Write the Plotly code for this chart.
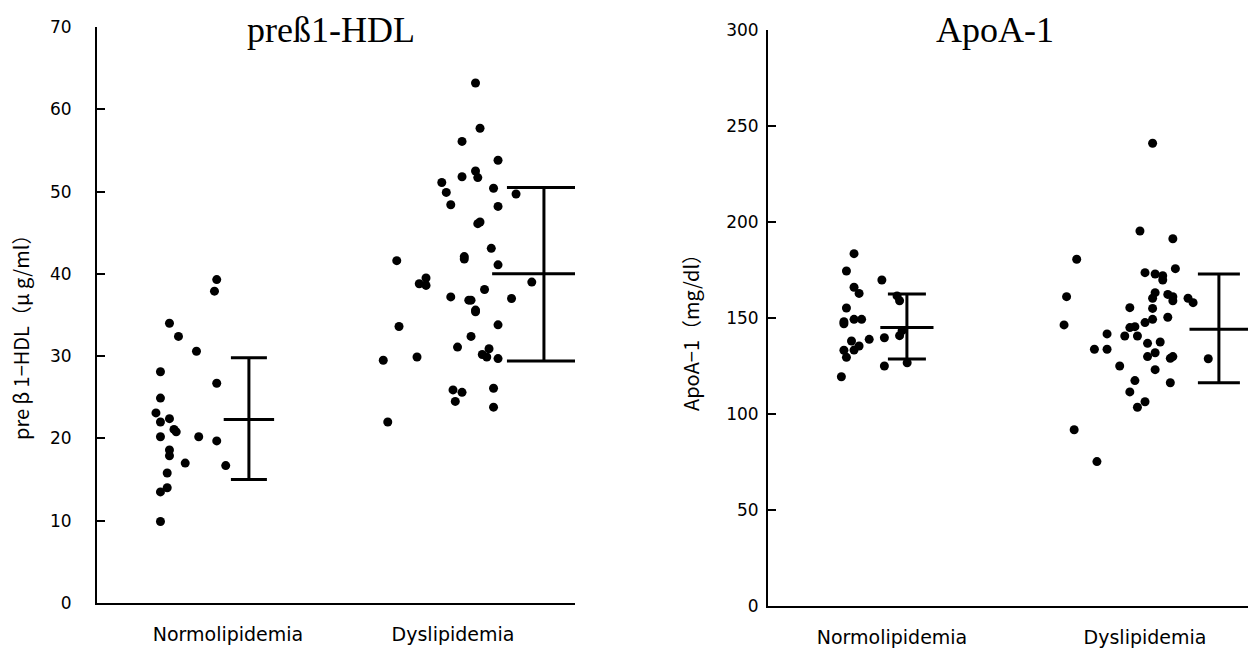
import plotly.graph_objects as go

categories = ["Normolipidemia", "Dyslipidemia"]

# Left panel: preβ1-HDL (μg/ml)
hdl_normo = [39.3, 37.9, 34.0, 32.4, 30.6, 28.1, 26.7, 24.9, 23.1, 22.0, 22.4, 21.1,
             20.8, 20.2, 20.2, 19.7, 18.6, 17.9, 17.0, 16.7, 15.8, 14.0, 13.5, 9.9]
hdl_normo_jit = [-0.05, -0.06, -0.26, -0.22, -0.14, -0.30, -0.05, -0.30, -0.32, -0.30, -0.26, -0.24,
                 -0.23, -0.30, -0.13, -0.05, -0.26, -0.26, -0.19, -0.01, -0.27, -0.27, -0.30, -0.30]
hdl_dys = [63.2, 57.7, 56.1, 53.8, 52.5, 51.7, 51.8, 51.1, 49.9, 50.4, 49.7, 48.4,
           48.2, 46.1, 46.3, 43.1, 41.6, 42.1, 41.8, 41.1, 39.5, 38.8, 38.6, 39.0,
           37.2, 38.1, 37.0, 36.8, 36.8, 35.6, 35.4, 33.6, 33.8, 32.4, 31.1, 30.9,
           30.2, 29.9, 29.7, 29.5, 29.9, 25.9, 25.6, 24.5, 26.1, 23.8, 22.0]
hdl_dys_jit = [0.10, 0.12, 0.04, 0.20, 0.10, 0.11, 0.04, -0.05, -0.03, 0.18, 0.28, -0.01,
               0.20, 0.11, 0.12, 0.17, -0.25, 0.05, 0.05, 0.20, -0.12, -0.15, -0.12, 0.35,
               -0.01, 0.14, 0.26, 0.07, 0.08, 0.10, 0.10, -0.24, 0.20, 0.08, 0.02, 0.16,
               0.13, 0.15, 0.20, -0.31, -0.16, 0.00, 0.04, 0.01, 0.18, 0.18, -0.29]
hdl_mean = [22.3, 40.0]
hdl_upper = [29.8, 50.5]
hdl_lower = [15.0, 29.4]
hdl_bar_offset = [0.093, 0.404]
hdl_cap_half = [18, 37]

# Right panel: ApoA-1 (mg/dl)
apo_normo = [183.5, 174.5, 169.8, 166.0, 162.8, 161.5, 159.0, 155.2, 147.0, 148.1, 149.3, 149.3,
             143.4, 140.8, 139.7, 138.9, 138.0, 135.4, 133.3, 133.2, 129.5, 125.0, 126.7, 119.4]
apo_normo_jit = [-0.15, -0.18, -0.04, -0.15, -0.13, 0.02, 0.03, -0.18, -0.19, -0.19, -0.15, -0.12,
                 0.04, 0.03, -0.03, -0.09, -0.16, -0.13, -0.15, -0.19, -0.18, -0.03, 0.06, -0.20]
apo_dys = [241.0, 195.3, 191.3, 180.6, 175.7, 173.6, 172.9, 172.0, 169.8, 161.1, 163.2, 160.3,
           162.3, 161.1, 159.0, 160.3, 158.0, 155.4, 155.0, 146.4, 150.4, 149.3, 147.6, 145.0,
           145.5, 141.7, 140.6, 140.6, 136.8, 137.5, 133.7, 133.7, 131.9, 129.9, 129.0, 129.9,
           128.8, 125.0, 123.1, 117.4, 116.3, 111.5, 106.4, 103.5, 91.8, 75.2]
apo_dys_jit = [0.03, -0.02, 0.11, -0.27, 0.12, 0.00, 0.04, 0.07, 0.07, -0.31, 0.04, 0.03,
               0.09, 0.11, 0.11, 0.17, 0.19, -0.06, 0.03, -0.32, 0.09, 0.03, 0.00, -0.06,
               -0.04, -0.15, -0.08, -0.03, 0.01, 0.06, -0.20, -0.15, 0.04, 0.01, 0.10, 0.11,
               0.25, -0.10, 0.04, -0.04, 0.10, -0.06, 0.00, -0.03, -0.28, -0.19]
apo_mean = [145.1, 144.1]
apo_upper = [162.5, 172.9]
apo_lower = [128.6, 116.3]
apo_bar_offset = [0.059, 0.292]
apo_cap_half = [19, 21]

fig = go.Figure()

def add_points(vals, jit, center, xa, ya):
    fig.add_trace(go.Scatter(
        x=[center + j for j in jit], y=vals, mode="markers",
        marker=dict(color="black", size=9, line=dict(width=0)),
        xaxis=xa, yaxis=ya, showlegend=False, hoverinfo="y"))

def add_bar(mean, upper, lower, xpos, half, xa, ya):
    fig.add_trace(go.Scatter(
        x=[xpos], y=[mean], mode="markers",
        marker=dict(symbol="line-ew", size=2 * half, color="black",
                    line=dict(color="black", width=3)),
        error_y=dict(type="data", symmetric=False, array=[upper - mean],
                     arrayminus=[mean - lower], color="black", thickness=3, width=half),
        xaxis=xa, yaxis=ya, showlegend=False, hoverinfo="y"))

add_points(hdl_normo, hdl_normo_jit, 1, "x", "y")
add_points(hdl_dys, hdl_dys_jit, 2, "x", "y")
add_points(apo_normo, apo_normo_jit, 1, "x2", "y2")
add_points(apo_dys, apo_dys_jit, 2, "x2", "y2")
for i in range(2):
    add_bar(hdl_mean[i], hdl_upper[i], hdl_lower[i], i + 1 + hdl_bar_offset[i], hdl_cap_half[i], "x", "y")
    add_bar(apo_mean[i], apo_upper[i], apo_lower[i], i + 1 + apo_bar_offset[i], apo_cap_half[i], "x2", "y2")

sans = "DejaVu Sans, Arial, sans-serif"
tickfont = dict(family=sans, size=17, color="black")
xfont = dict(family=sans, size=19, color="black")

common_x = dict(tickvals=[1, 2], ticktext=categories, showline=True, linecolor="black",
                linewidth=2, ticks="", showgrid=False, zeroline=False, tickfont=xfont,
                ticklabelstandoff=13, fixedrange=True, automargin=False)
common_y = dict(showline=True, linecolor="black", linewidth=2, ticks="inside", ticklen=8,
                tickwidth=2, tickcolor="black", showgrid=False, zeroline=False,
                tickfont=tickfont, fixedrange=True, automargin=False)

serif = dict(family="Liberation Serif, Times New Roman, serif", size=36, color="black")
ytitle_font = dict(family="Noto Sans CJK JP, DejaVu Sans, sans-serif", size=20, color="black")

fig.update_layout(
    width=1248, height=655,
    margin=dict(l=0, r=0, t=0, b=0, pad=0, autoexpand=False),
    paper_bgcolor="white", plot_bgcolor="white",
    xaxis=dict(domain=[97 / 1248, 575 / 1248], range=[0.418, 2.542], anchor="y", **common_x),
    yaxis=dict(domain=[1 - 603 / 655, 1 - 27 / 655], range=[0, 70], dtick=10, anchor="x",
               ticklabelstandoff=20, **common_y),
    xaxis2=dict(domain=[768 / 1248, 1.0], range=[0.51, 2.407], anchor="y2", **common_x),
    yaxis2=dict(domain=[1 - 606 / 655, 1 - 30 / 655], range=[0, 300], dtick=50, anchor="x2",
                ticklabelstandoff=4, **common_y),
    annotations=[
        dict(text="preß1-HDL", x=331 / 1248, y=1 - 30 / 655, xref="paper", yref="paper",
             xanchor="center", yanchor="middle", showarrow=False, font=serif),
        dict(text="ApoA-1", x=995 / 1248, y=1 - 30 / 655, xref="paper", yref="paper",
             xanchor="center", yanchor="middle", showarrow=False, font=serif),
        dict(text="pre β 1−HDL（μ g/ml）", x=20 / 1248, y=1 - 333 / 655, xref="paper", yref="paper",
             xanchor="center", yanchor="middle", showarrow=False, textangle=-90, font=ytitle_font),
        dict(text="ApoA−1（mg/dl）", x=690 / 1248, y=1 - 328 / 655, xref="paper", yref="paper",
             xanchor="center", yanchor="middle", showarrow=False, textangle=-90, font=ytitle_font),
    ],
)

fig.write_html("out.html", config={"responsive": False, "displayModeBar": False},
               post_script="document.body.style.margin='0';document.body.style.padding='0';")
